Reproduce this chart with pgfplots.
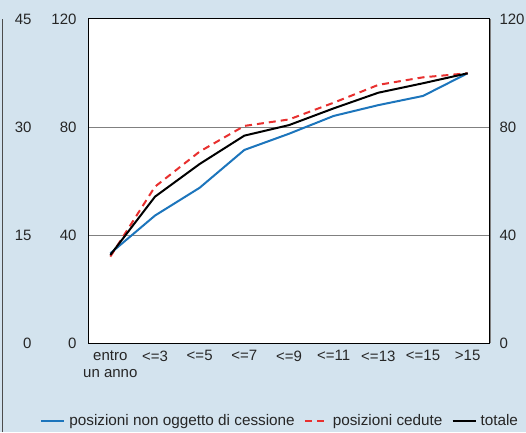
\documentclass[border=0pt]{standalone}
\usepackage{pgfplots}
\pgfplotsset{compat=1.18}
\usepackage{fontspec}
\setmainfont{Liberation Sans}
\definecolor{bgblue}{HTML}{D3E3EE}
\definecolor{serblue}{HTML}{1C75BC}
\definecolor{serred}{HTML}{E8302F}
\definecolor{txt}{HTML}{262626}

\pgfplotstableread{
x  nonced  cedute  totale
0  33.2    32.0    32.6
1  47.2    57.9    54.2
2  57.5    70.9    66.3
3  71.5    80.4    76.8
4  77.5    82.8    80.7
5  84.1    89.0    86.9
6  88.1    95.6    92.7
7  91.5    98.4    96.2
8  99.9    99.9    99.9
}\datatab

\begin{document}
\begin{tikzpicture}
\useasboundingbox (0pt,0pt) rectangle (526pt,432pt);
\fill[bgblue] (0pt,0pt) rectangle (526pt,432pt);
\draw[gray!60!black, line width=1pt] (2pt,0pt) -- (2pt,413pt);

\pgfplotsset{
  common/.style={
    at={(88pt,89pt)}, anchor=south west,
    width=402pt, height=324pt, scale only axis,
    xmin=-0.5, xmax=8.5,
    major tick length=0pt,
    tick label style={font=\fontsize{15}{17.5}\selectfont, text=txt},
    /pgf/number format/assume math mode=true,
  }
}

% outer left scale 0-45
\begin{axis}[common,
  ymin=0, ymax=45, ytick={0,15,30,45},
  axis x line=none, axis y line*=left,
  y axis line style={draw=none},
  yticklabel style={xshift=-53pt},
]
\end{axis}

% right scale
\begin{axis}[common,
  ymin=0, ymax=120, ytick={0,40,80,120},
  axis x line=none, axis y line*=right,
  y axis line style={gray, line width=1pt},
  yticklabel style={xshift=6pt},
]
\end{axis}

% main axis
\begin{axis}[common,
  ymin=0, ymax=120, ytick={0,40,80,120},
  xtick={0,...,8},
  xticklabels={{entro\\un anno},{<=3},{<=5},{<=7},{<=9},{<=11},{<=13},{<=15},{>15}},
  xticklabel style={align=center, yshift=-4pt},
  yticklabel style={xshift=-8pt},
  ymajorgrids, grid style={gray, line width=1pt},
  axis background/.style={fill=white},
  axis line style={black, line width=1pt},
  legend columns=3,
  legend style={draw=none, fill=none, at={(0.478,-0.24)}, anchor=center,
    font=\fontsize{15.3}{17.5}\selectfont, text=txt,
    /tikz/every even column/.append style={column sep=7pt},
    /tikz/every odd column/.append style={column sep=2pt}},
  legend image code/.code={\draw[#1] (0pt,0pt) -- (23pt,0pt);},
]
\addplot[serblue, line width=2pt, no marks] table[x=x, y=nonced] {\datatab};
\addlegendentry{posizioni non oggetto di cessione}
\addplot[serred, line width=2pt, no marks, dash pattern=on 7pt off 5pt] table[x=x, y=cedute] {\datatab};
\addlegendentry{posizioni cedute}
\addplot[black, line width=2pt, no marks] table[x=x, y=totale] {\datatab};
\addlegendentry{totale}
\end{axis}
\end{tikzpicture}
\end{document}
